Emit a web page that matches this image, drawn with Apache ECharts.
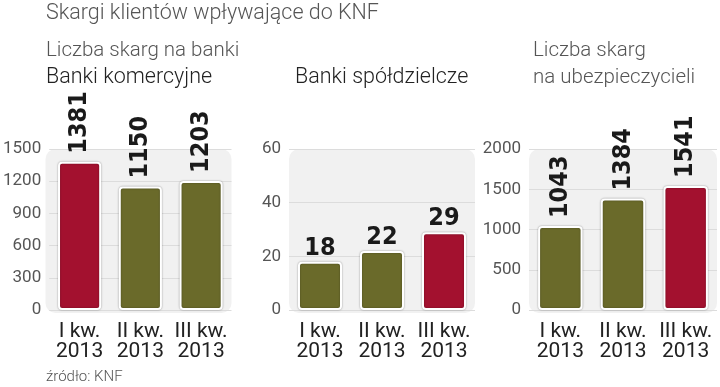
<!DOCTYPE html>
<html><head><meta charset="utf-8">
<script src="https://cdn.jsdelivr.net/npm/echarts@6/dist/echarts.min.js"></script>
<style>html,body{margin:0;padding:0;background:#fff}#c{width:720px;height:387px}</style>
</head><body><div id="c"></div>
<script>
// ---- data ----
const categories = ['I kw.\n2013', 'II kw.\n2013', 'III kw.\n2013'];
const commercialBanks = [1381, 1150, 1203];
const cooperativeBanks = [18, 22, 29];
const insurers = [1043, 1384, 1541];
const axis1 = {min: 0, max: 1500, interval: 300};
const axis2 = {min: 0, max: 60, interval: 20};
const axis3 = {min: 0, max: 2000, interval: 500};

// ---- style / layout ----
const RED = '#a3112f', OLIVE = '#6a6a2a';
const NUM_FONT = '"Liberation Sans Narrow","DejaVu Sans Condensed","Arial Narrow",sans-serif';
const TXT_FONT = 'Roboto,"Noto Sans",sans-serif';
const grids = [
  {left: 45.5, top: 149, width: 186, height: 161},
  {left: 289, top: 149, width: 186, height: 161},
  {left: 529, top: 149, width: 188, height: 161}
];

function colorsFor(arr) {
  const mx = Math.max(...arr);
  return arr.map(v => ({value: v, itemStyle: {color: v === mx ? RED : OLIVE}}));
}
function xAxisFor(i) {
  return {
    type: 'category', gridIndex: i, data: categories,
    axisLine: {show: false}, axisTick: {show: false},
    axisLabel: {margin: 12, fontSize: 21, lineHeight: 20, color: '#222', fontFamily: TXT_FONT, interval: 0}
  };
}
function yAxisFor(i, a) {
  return {
    type: 'value', gridIndex: i, min: a.min, max: a.max, interval: a.interval, z: 1,
    axisLine: {show: false}, axisTick: {show: false},
    axisLabel: {margin: 8, fontSize: 17, color: '#555', fontFamily: TXT_FONT, formatter: v => String(v)},
    splitLine: {lineStyle: {color: '#dcdcdc', width: 1}}
  };
}
function barSeries(i, arr, rotated) {
  return {
    type: 'bar', xAxisIndex: i, yAxisIndex: i, data: colorsFor(arr), barWidth: '71%', z: 2,
    itemStyle: {borderColor: '#fff', borderWidth: 2, borderRadius: 3,
      shadowColor: 'rgba(0,0,0,0.35)', shadowBlur: 2},
    label: rotated ? {
      show: true, position: 'top', rotate: 90, align: 'left', verticalAlign: 'middle', distance: 8,
      fontFamily: NUM_FONT, fontWeight: 'bold', fontSize: 25, color: '#1a1a1a'
    } : {
      show: true, position: 'top', distance: 1,
      fontFamily: NUM_FONT, fontWeight: 'bold', fontSize: 25, color: '#1a1a1a'
    }
  };
}

const bgRects = grids.map(g => ({
  type: 'rect', z: 0,
  shape: {x: g.left, y: g.top, width: g.width, height: g.height + 3, r: 10},
  style: {fill: '#f1f1f1'}
}));
function txt(x, y, text, size, color) {
  return {type: 'text', x: x, y: y, z: 5,
    style: {text: text, fontSize: size, fill: color, fontFamily: TXT_FONT, fontWeight: 300, verticalAlign: 'middle'}};
}
const texts = [
  txt(46, 14, 'Skargi klientów wpływające do KNF', 21.5, '#555'),
  txt(46, 51, 'Liczba skarg na banki', 20.5, '#555'),
  txt(46, 78, 'Banki komercyjne', 21.5, '#222'),
  txt(295, 78, 'Banki spółdzielcze', 21.5, '#222'),
  txt(533, 51, 'Liczba skarg', 20.5, '#555'),
  txt(533, 78, 'na ubezpieczycieli', 20.5, '#555'),
  txt(46, 377, 'źródło: KNF', 15, '#555')
];

const chart = echarts.init(document.getElementById('c'), null, {renderer: 'canvas'});
chart.setOption({
  animation: false,
  backgroundColor: '#fff',
  grid: grids,
  xAxis: [xAxisFor(0), xAxisFor(1), xAxisFor(2)],
  yAxis: [yAxisFor(0, axis1), yAxisFor(1, axis2), yAxisFor(2, axis3)],
  series: [barSeries(0, commercialBanks, true), barSeries(1, cooperativeBanks, false), barSeries(2, insurers, true)],
  graphic: bgRects.concat(texts)
});
</script></body></html>
